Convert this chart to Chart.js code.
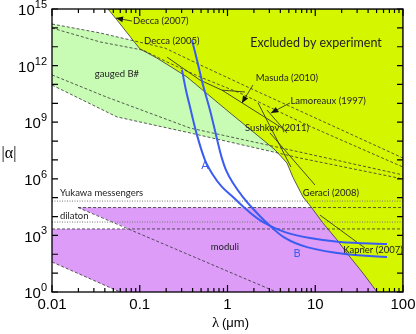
<!DOCTYPE html>
<html>
<head>
<meta charset="utf-8">
<script src="https://cdn.jsdelivr.net/npm/chart.js@4.4.0/dist/chart.umd.min.js"></script>
<style>
  html, body { margin: 0; padding: 0; background: #fff; }
</style>
</head>
<body>
<canvas id="chart" width="416" height="334"></canvas>
<script>
// axes
const lambdaTicks = [0.01, 0.1, 1, 10, 100];
const lambdaTickLabels = ['0.01', '0.1', '1', '10', '100'];
const alphaTickExponents = [0, 3, 6, 9, 12, 15];

// excluded by experiment: lower-left edge of the region (lambda in um)
const excludedLambda = [0.0435, 0.0551, 0.0838, 0.1007, 0.157, 0.239, 0.345, 1.07, 2.54, 3.48, 4.76, 5.57, 7.25, 9.18, 12.2, 17.7, 24.9, 35.0, 50.6];
const excludedAlpha = [1e15, 2.6e14, 2.2e13, 7.6e12, 2.5e12, 7.4e11, 2.5e11, 3.1e9, 1.15e8, 3.4e7, 6.9e6, 1.2e6, 1.1e5, 2.8e4, 4.6e3, 580, 71, 10, 1];

// gauged B# band, two dashed edges on each side
const gaugedTop1Lambda = [0.01, 0.0352, 0.194, 0.486, 1.71, 100];
const gaugedTop1Alpha = [1.6e14, 5.4e13, 8.5e12, 1.1e12, 7.2e10, 1.26e7];
const gaugedTop2Lambda = [0.01, 0.0352, 0.109, 0.205, 0.486, 1.39, 8.05, 100];
const gaugedTop2Alpha = [9.8e13, 1.8e13, 6.6e12, 1.55e12, 2.5e11, 3.5e10, 7.1e8, 4.2e6];
const gaugedLow1Lambda = [0.01, 0.0424, 0.374, 6.70, 100];
const gaugedLow1Alpha = [3.2e11, 2.1e10, 4.9e8, 2.6e7, 1.6e6];
const gaugedLow2Lambda = [0.01, 0.0551, 0.374, 6.70, 100];
const gaugedLow2Alpha = [9.3e10, 1.9e9, 2.7e8, 1.26e7, 9.8e5];

// moduli region
const moduliLambda = [0.0198, 100, 100, 0.0596, 0.01, 0.01, 0.0774, 0.0198];
const moduliAlpha = [3.0e4, 3.0e4, 1, 1, 39, 2.2e3, 2.2e3, 3.0e4];
const moduliDiagLambda = [0.0198, 3.6];
const moduliDiagAlpha = [3.0e4, 1];
const moduliLowLambda = [0.01, 0.0596];
const moduliLowAlpha = [39, 1];
const moduliTopAlpha = 3.0e4;
const moduliCutAlpha = 2.2e3;
const yukawaAlpha = 6.6e4;
const dilatonAlpha = 5.1e3;

// experimental limit lines
const decca2005Lambda = [0.205, 0.486, 0.865, 1.58];
const decca2005Alpha = [2.8e12, 1.7e11, 5.0e10, 4.0e10];
const masudaLambda = [0.865, 4.18];
const masudaAlpha = [5.0e10, 4.9e8];
const sushkovLambda = [2.23, 5.29];
const sushkovAlpha = [1.05e10, 4.2e6];
const lamoreauxLambda = [2.82, 4.76];
const lamoreauxAlpha = [4.4e9, 2.7e8];
const geraciLambda = [3.05, 9.93];
const geraciAlpha = [2.7e8, 4.7e5];
const kapnerLambda = [11.3, 36.9];
const kapnerAlpha = [1.2e4, 214];

// arrows (from label to line)
const deccaArrowLambda = [0.0817, 0.0536];
const deccaArrowAlpha = [2.3e14, 3.3e14];
const masudaArrowLambda = [1.95, 1.46];
const masudaArrowAlpha = [9.3e10, 1.05e10];
const lamoreauxArrowLambda = [5.15, 3.13];
const lamoreauxArrowAlpha = [1.05e10, 3.1e9];

// predictions A and B
const curveALambda = [0.303, 0.336, 0.374, 0.449, 0.554, 0.684, 0.865, 1.155, 1.67, 2.54, 4.52, 8.71, 19.1, 65.7];
const curveAAlpha = [5.8e11, 5.1e10, 6.4e9, 2.1e8, 9.9e6, 1.6e6, 3.7e5, 1.08e5, 2.2e4, 5.1e3, 1.5e3, 730, 450, 350];
const curveBLambda = [0.394, 0.449, 0.526, 0.631, 0.740, 0.843, 0.962, 1.155, 1.50, 2.06, 2.82, 4.52, 8.05, 23.0, 65.7];
const curveBAlpha = [2.2e13, 2.0e12, 9.3e10, 4.4e9, 2.1e8, 1.8e7, 2.9e6, 6.0e5, 1.08e5, 1.96e4, 4.5e3, 730, 240, 100, 72];

// text labels
const notes = [
  { text: 'Decca (2007)', x: 0.084, y: 2.3e14, align: 'left' },
  { text: 'Decca (2005)', x: 0.112, y: 2.0e13, align: 'left' },
  { text: 'gauged B#', x: 0.055, y: 3.5e11, align: 'center' },
  { text: 'Excluded by experiment', x: 10.2, y: 1.6e13, align: 'center', size: 12.5 },
  { text: 'Masuda (2010)', x: 4.76, y: 2.2e11, align: 'center' },
  { text: 'Lamoreaux (1997)', x: 14.0, y: 1.3e10, align: 'center' },
  { text: 'Sushkov (2011)', x: 3.67, y: 4.9e8, align: 'center' },
  { text: 'Geraci (2008)', x: 15.1, y: 1.8e5, align: 'center' },
  { text: 'Kapner (2007)', x: 45.5, y: 170, align: 'center' },
  { text: 'Yukawa messengers', x: 0.0123, y: 1.8e5, align: 'left' },
  { text: 'dilaton', x: 0.0123, y: 1.07e4, align: 'left' },
  { text: 'moduli', x: 0.935, y: 240, align: 'center' },
  { text: 'A', x: 0.554, y: 5.4e6, align: 'center', color: '#3b5cf0', size: 11 },
  { text: 'B', x: 6.2, y: 117, align: 'center', color: '#3b5cf0', size: 11 }
];

function pts(xs, ys) {
  return xs.map((x, i) => ({ x: x, y: ys[i] }));
}
function hline(v) {
  return [{ x: 0.01, y: v }, { x: 100, y: v }];
}

const dashed = { borderColor: '#333', borderWidth: 0.8, borderDash: [3, 2], order: 2 };
const dotted = { borderColor: '#777', borderWidth: 1, borderDash: [1, 1.5], order: 2 };
const solid = { borderColor: '#222', borderWidth: 0.8, order: 1 };
const blue = { borderColor: '#3b5cf0', borderWidth: 2, tension: 0.35, order: 0 };

const excludedShape = pts(excludedLambda, excludedAlpha).concat([{ x: 100, y: 1 }, { x: 100, y: 1e15 }, { x: excludedLambda[0], y: 1e15 }]);
const gaugedShape = pts(gaugedTop1Lambda, gaugedTop1Alpha).concat(pts(gaugedLow2Lambda, gaugedLow2Alpha).reverse());
gaugedShape.push(gaugedShape[0]);

const datasets = [
  Object.assign({ data: pts(curveALambda, curveAAlpha) }, blue),
  Object.assign({ data: pts(curveBLambda, curveBAlpha) }, blue),

  Object.assign({ data: pts(decca2005Lambda, decca2005Alpha) }, solid),
  Object.assign({ data: pts(masudaLambda, masudaAlpha) }, solid),
  Object.assign({ data: pts(sushkovLambda, sushkovAlpha) }, solid),
  Object.assign({ data: pts(lamoreauxLambda, lamoreauxAlpha) }, solid),
  Object.assign({ data: pts(geraciLambda, geraciAlpha) }, solid),
  Object.assign({ data: pts(kapnerLambda, kapnerAlpha) }, solid),
  Object.assign({ data: pts(deccaArrowLambda, deccaArrowAlpha), arrow: true }, solid),
  Object.assign({ data: pts(masudaArrowLambda, masudaArrowAlpha), arrow: true }, solid),
  Object.assign({ data: pts(lamoreauxArrowLambda, lamoreauxArrowAlpha), arrow: true }, solid),

  Object.assign({ data: pts(gaugedTop1Lambda, gaugedTop1Alpha) }, dashed),
  Object.assign({ data: pts(gaugedTop2Lambda, gaugedTop2Alpha) }, dashed),
  Object.assign({ data: pts(gaugedLow1Lambda, gaugedLow1Alpha) }, dashed),
  Object.assign({ data: pts(gaugedLow2Lambda, gaugedLow2Alpha) }, dashed),
  Object.assign({ data: pts(moduliDiagLambda, moduliDiagAlpha) }, dashed),
  Object.assign({ data: pts(moduliLowLambda, moduliLowAlpha) }, dashed),
  Object.assign({ data: [{ x: moduliLambda[0], y: moduliTopAlpha }, { x: 100, y: moduliTopAlpha }] }, dashed),
  Object.assign({ data: hline(moduliCutAlpha) }, dashed),
  Object.assign({ data: hline(yukawaAlpha) }, dotted),
  Object.assign({ data: hline(dilatonAlpha) }, dotted),

  { data: excludedShape, fill: 'shape', backgroundColor: '#d4f700', borderColor: '#333', borderWidth: 0.8, order: 3 },
  { data: pts(moduliLambda, moduliAlpha), fill: 'shape', backgroundColor: '#dc9cf8', borderWidth: 0, order: 4 },
  { data: gaugedShape, fill: 'shape', backgroundColor: '#c8fcb4', borderWidth: 0, order: 5 }
];

const overlay = {
  id: 'overlay',
  afterDatasetsDraw(chart) {
    const ctx = chart.ctx;
    chart.data.datasets.forEach((ds, i) => {
      if (!ds.arrow) return;
      const p = chart.getDatasetMeta(i).data;
      const a = p[p.length - 2], b = p[p.length - 1];
      const ang = Math.atan2(b.y - a.y, b.x - a.x);
      const c = Math.cos(ang), s = Math.sin(ang);
      ctx.save();
      ctx.fillStyle = '#111';
      ctx.beginPath();
      ctx.moveTo(b.x, b.y);
      ctx.lineTo(b.x - 7 * c + 3 * s, b.y - 7 * s - 3 * c);
      ctx.lineTo(b.x - 7 * c - 3 * s, b.y - 7 * s + 3 * c);
      ctx.closePath();
      ctx.fill();
      ctx.restore();
    });
  },
  afterDraw(chart) {
    const { ctx, chartArea: a, scales: { x, y } } = chart;
    ctx.save();
    // frame
    ctx.strokeStyle = '#000';
    ctx.lineWidth = 1.3;
    ctx.strokeRect(a.left, a.top, a.right - a.left, a.bottom - a.top);

    // ticks, pointing inwards
    ctx.lineWidth = 1.2;
    ctx.beginPath();
    for (let e = 0; e <= 15; e++) {
      const py = y.getPixelForValue(Math.pow(10, e));
      ctx.moveTo(a.left, py); ctx.lineTo(a.left + 6, py);
      ctx.moveTo(a.right, py); ctx.lineTo(a.right - 6, py);
    }
    for (let d = -2; d <= 2; d++) {
      for (let m = 1; m <= 9; m++) {
        const v = m * Math.pow(10, d);
        if (v > 100.0001) continue;
        const px = x.getPixelForValue(v);
        const len = m === 1 ? 7 : 4;
        ctx.moveTo(px, a.bottom); ctx.lineTo(px, a.bottom - len);
        ctx.moveTo(px, a.top); ctx.lineTo(px, a.top + len);
      }
    }
    ctx.stroke();

    // tick labels
    ctx.fillStyle = '#000';
    ctx.textBaseline = 'middle';
    ctx.textAlign = 'center';
    ctx.font = '15px "Liberation Sans", Arial, sans-serif';
    lambdaTicks.forEach((v, i) => {
      ctx.fillText(lambdaTickLabels[i], x.getPixelForValue(v), a.bottom + 13);
    });
    alphaTickExponents.forEach(e => {
      const py = y.getPixelForValue(Math.pow(10, e));
      ctx.textAlign = 'right';
      ctx.font = '11px "Liberation Sans", Arial, sans-serif';
      const ew = ctx.measureText(String(e)).width;
      ctx.fillText(String(e), 47, py - 4);
      ctx.font = '15px "Liberation Sans", Arial, sans-serif';
      ctx.fillText('10', 47 - ew, py + 2);
    });

    // axis titles
    ctx.textAlign = 'left';
    ctx.font = '15px "Liberation Serif", serif';
    ctx.fillText('\u03bb', 212, 323);
    ctx.font = '13px "Liberation Sans", Arial, sans-serif';
    ctx.fillText('(\u03bcm)', 222, 323);
    ctx.font = '16px "Liberation Serif", serif';
    ctx.textAlign = 'center';
    ctx.fillText('|\u03b1|', 9, 154);

    // annotations
    notes.forEach(n => {
      ctx.font = (n.size || 9.5) + 'px Lato, "Open Sans", sans-serif';
      ctx.fillStyle = n.color || '#222';
      ctx.textAlign = n.align;
      ctx.fillText(n.text, x.getPixelForValue(n.x), y.getPixelForValue(n.y));
    });
    ctx.restore();
  }
};

new Chart(document.getElementById('chart'), {
  type: 'line',
  data: { datasets: datasets },
  options: {
    responsive: false,
    animation: false,
    layout: { padding: { left: 52, top: 9, right: 13, bottom: 42 } },
    elements: { point: { radius: 0, hoverRadius: 0 }, line: { fill: false } },
    plugins: { legend: { display: false }, tooltip: { enabled: false } },
    scales: {
      x: { type: 'logarithmic', min: 0.01, max: 100, display: false },
      y: { type: 'logarithmic', min: 1, max: 1e15, display: false }
    }
  },
  plugins: [overlay]
});
</script>
</body>
</html>
